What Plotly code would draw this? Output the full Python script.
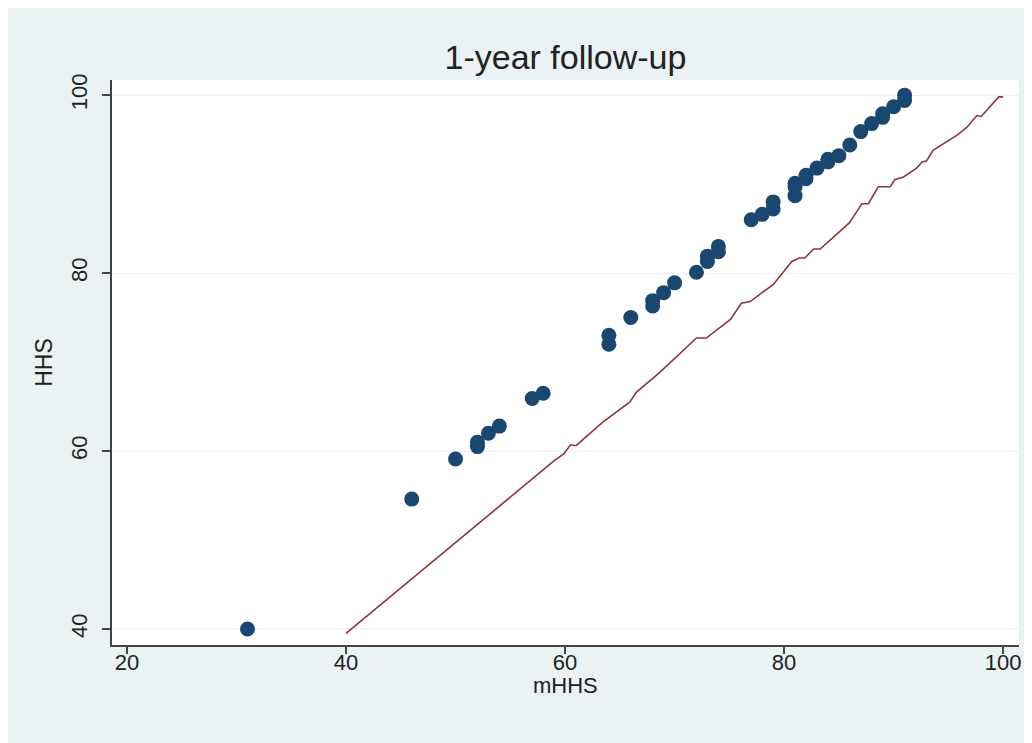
import plotly.graph_objects as go

# ---- data ----
mhhs_points = [31, 46, 50, 52, 52, 53, 54, 57, 58, 64, 64, 66, 68, 68, 69, 70,
               72, 73, 73, 74, 74, 77, 78, 79, 79, 81, 81, 81, 82, 82, 83, 84,
               84, 85, 86, 87, 88, 89, 89, 90, 91, 91]
hhs_points = [40.0, 54.6, 59.1, 60.5, 61.0, 62.0, 62.8, 65.9, 66.5, 72.0, 73.0, 75.0,
              76.3, 76.9, 77.8, 78.9, 80.1, 81.3, 81.9, 82.4, 83.0, 86.0, 86.6, 87.2,
              88.0, 88.7, 89.7, 90.1, 90.6, 91.0, 91.8, 92.5, 92.8, 93.2, 94.4, 95.9,
              96.8, 97.5, 97.9, 98.7, 99.4, 100.0]

line_x = [40.0, 58.9, 59.9, 60.5, 61.0, 63.5, 65.9, 66.5, 68.7, 72.0, 72.9, 75.1,
          76.1, 76.9, 79.0, 80.7, 81.4, 81.9, 82.7, 83.3, 86.0, 87.1, 87.7, 88.6,
          89.7, 90.1, 90.9, 92.1, 92.6, 93.0, 93.6, 95.8, 96.7, 97.6, 98.0, 99.6, 100.0]
line_y = [39.5, 58.8, 59.7, 60.7, 60.6, 63.3, 65.5, 66.6, 68.9, 72.7, 72.7, 74.8,
          76.6, 76.8, 78.7, 81.3, 81.7, 81.7, 82.7, 82.7, 85.7, 87.8, 87.8, 89.7,
          89.7, 90.5, 90.8, 91.8, 92.5, 92.6, 93.8, 95.5, 96.4, 97.7, 97.6, 99.8, 99.8]

x_ticks = [20, 40, 60, 80, 100]
y_ticks = [40, 60, 80, 100]

title_text = "1-year follow-up"
x_title = "mHHS"
y_title = "HHS"

# ---- style ----
W, H = 1040, 752
ML, MT = 104, 72
PW, PH = 907, 565
MR, MB = W - ML - PW, H - MT - PH
BG = "#eaf2f3"
NAVY = "#1a476f"
MAROON = "#90353b"
FONT = "Liberation Sans, Arial, sans-serif"
TXT = "#222222"
AX = "#444444"

fig = go.Figure()
fig.add_trace(go.Scatter(
    x=mhhs_points, y=hhs_points, mode="markers",
    marker=dict(size=15, color=NAVY, line=dict(width=0)),
    showlegend=False, hoverinfo="skip"))
fig.add_trace(go.Scatter(
    x=line_x, y=line_y, mode="lines",
    line=dict(color=MAROON, width=1.6),
    showlegend=False, hoverinfo="skip"))

# x-axis title placed close under the tick labels (figure y = 677 px)
fig.add_annotation(text=x_title, xref="paper", yref="paper", x=0.5, y=-(677 - (MT + PH)) / PH,
                   xanchor="center", yanchor="middle", showarrow=False,
                   font=dict(size=22, color=TXT, family=FONT))

fig.update_layout(
    width=W, height=H,
    margin=dict(l=ML, r=MR, t=MT, b=MB),
    paper_bgcolor=BG, plot_bgcolor="white",
    font=dict(family=FONT, color=TXT, size=22),
    title=dict(text=title_text, x=(ML + PW / 2) / W, xanchor="center",
               y=1 - 49 / H, yanchor="middle",
               font=dict(size=34, color=TXT, family=FONT)),
    xaxis=dict(range=[18.63, 101.45], tickvals=x_ticks, showgrid=False,
               zeroline=False, showline=True, linecolor=AX, linewidth=1.5,
               ticks="outside", ticklen=7, tickwidth=1.5, tickcolor=AX,
               ticklabelstandoff=-10,
               tickfont=dict(size=22, color=TXT)),
    yaxis=dict(range=[38.2, 101.7], tickvals=y_ticks, showgrid=True,
               gridcolor=BG, gridwidth=1.2, zeroline=False,
               showline=True, linecolor=AX, linewidth=1.5,
               ticks="outside", ticklen=8, tickwidth=1.5, tickcolor=AX,
               tickangle=-90, ticklabelstandoff=6,
               tickfont=dict(size=22, color=TXT),
               title=dict(text=y_title, font=dict(size=23, color=TXT), standoff=8)),
)

fig.write_html("out.html")
